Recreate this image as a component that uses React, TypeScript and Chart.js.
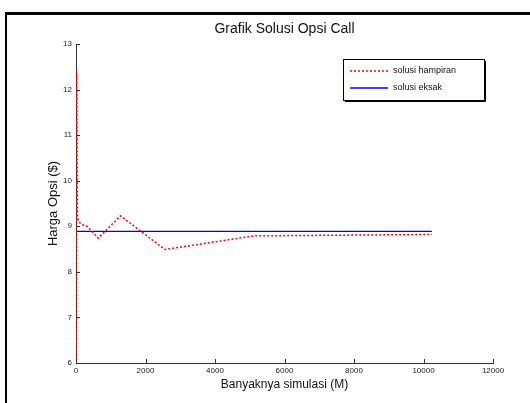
import React, { useEffect, useRef } from "react";
import { Chart, registerables } from "chart.js";

Chart.register(...registerables);

const simulasiM = [10, 20, 40, 80, 160, 320, 640, 1280, 2560, 5120, 10240];
const hampiran = [5.8, 12.4, 9.2, 9.1, 9.04, 9.0, 8.74, 9.23, 8.49, 8.79, 8.82];
const eksakM = [0, 10240];
const eksak = [8.89, 8.89];
const xTicks = [0, 2000, 4000, 6000, 8000, 10000, 12000];
const yTicks = [6, 7, 8, 9, 10, 11, 12, 13];
const seriesNames = ["solusi hampiran", "solusi eksak"];
const chartTitle = "Grafik Solusi Opsi Call";
const xTitle = "Banyaknya simulasi (M)";
const yTitle = "Harga Opsi ($)";

const FONT = "'Liberation Sans', Arial, Helvetica, sans-serif";

const decorPlugin = {
  id: "decor",
  afterDraw(chart: any) {
    const ctx = chart.ctx;
    const area = chart.chartArea;
    const xs = chart.scales.x;
    const ys = chart.scales.y;
    ctx.save();
    // outer frame (top and left)
    ctx.fillStyle = "#000";
    ctx.fillRect(5, 12, 525, 3);
    ctx.fillRect(5, 12, 2, 391);
    // title
    ctx.fillStyle = "#111";
    ctx.font = `14px ${FONT}`;
    ctx.textAlign = "center";
    ctx.textBaseline = "middle";
    ctx.fillText(chartTitle, (area.left + area.right) / 2, 29);
    // inward ticks
    ctx.strokeStyle = "#333";
    ctx.lineWidth = 1;
    ctx.beginPath();
    xTicks.forEach((v) => {
      const px = Math.round(xs.getPixelForValue(v)) + 0.5;
      ctx.moveTo(px, area.bottom);
      ctx.lineTo(px, area.bottom - 4);
    });
    yTicks.forEach((v) => {
      const py = Math.round(ys.getPixelForValue(v)) + 0.5;
      ctx.moveTo(area.left, py);
      ctx.lineTo(area.left + 4, py);
    });
    ctx.stroke();
    // legend
    const lx = 343, ly = 59, lw = 141, lh = 41;
    ctx.fillStyle = "#fff";
    ctx.fillRect(lx, ly, lw, lh);
    ctx.strokeStyle = "#000";
    ctx.lineWidth = 1;
    ctx.strokeRect(lx + 0.5, ly + 0.5, lw, lh);
    ctx.beginPath();
    ctx.moveTo(lx + lw + 1.5, ly + 2);
    ctx.lineTo(lx + lw + 1.5, ly + lh + 1.5);
    ctx.lineTo(lx + 2, ly + lh + 1.5);
    ctx.stroke();
    const ds = chart.data.datasets;
    const rows = [71, 88];
    rows.forEach((ry, i) => {
      ctx.save();
      ctx.strokeStyle = ds[i].borderColor;
      ctx.lineWidth = ds[i].borderWidth;
      ctx.setLineDash(ds[i].borderDash || []);
      ctx.beginPath();
      ctx.moveTo(350, ry);
      ctx.lineTo(388, ry);
      ctx.stroke();
      ctx.restore();
      ctx.fillStyle = "#111";
      ctx.font = `9px ${FONT}`;
      ctx.textAlign = "left";
      ctx.textBaseline = "middle";
      ctx.fillText(ds[i].label, 393, ry);
    });
    ctx.restore();
  },
};

export default function App() {
  const ref = useRef<HTMLCanvasElement | null>(null);
  useEffect(() => {
    if (!ref.current) return;
    const chart = new Chart(ref.current, {
      type: "line",
      data: {
        datasets: [
          {
            label: seriesNames[0],
            data: simulasiM.map((m, i) => ({ x: m, y: hampiran[i] })),
            borderColor: "#ff0000",
            borderWidth: 1.5,
            borderDash: [2, 2],
            pointRadius: 0,
            tension: 0,
            fill: false,
          },
          {
            label: seriesNames[1],
            data: eksakM.map((m, i) => ({ x: m, y: eksak[i] })),
            borderColor: "#0000ff",
            borderWidth: 1.3,
            pointRadius: 0,
            tension: 0,
            fill: false,
          },
        ],
      },
      options: {
        animation: false,
        responsive: false,
        devicePixelRatio: 1,
        layout: { padding: { left: 0, right: 37, top: 44, bottom: 0 } },
        plugins: {
          legend: { display: false },
          title: { display: false },
          tooltip: { enabled: false },
        },
        scales: {
          x: {
            type: "linear",
            min: 0,
            max: 12000,
            afterBuildTicks: (s: any) => {
              s.ticks = xTicks.map((v) => ({ value: v }));
            },
            ticks: {
              font: { family: FONT, size: 8 },
              color: "#222",
              padding: 3,
              maxRotation: 0,
              callback: (v: any) => String(v),
            },
            grid: { display: false, drawTicks: false },
            border: { display: true, color: "#333", width: 1 },
            title: {
              display: true,
              text: xTitle,
              font: { family: FONT, size: 12 },
              color: "#111",
              padding: { top: 0, bottom: 11 },
            },
            afterFit: (s: any) => {
              s.height = 40;
            },
          },
          y: {
            type: "linear",
            min: 6,
            max: 13,
            afterBuildTicks: (s: any) => {
              s.ticks = yTicks.map((v) => ({ value: v }));
            },
            ticks: {
              font: { family: FONT, size: 8 },
              color: "#222",
              padding: 4,
              callback: (v: any) => String(v),
            },
            grid: { display: false, drawTicks: false },
            border: { display: true, color: "#333", width: 1 },
            title: {
              display: true,
              text: yTitle,
              font: { family: FONT, size: 13 },
              color: "#111",
              padding: { top: 46, bottom: 0 },
            },
            afterFit: (s: any) => {
              s.width = 76;
            },
          },
        },
      },
      plugins: [decorPlugin],
    });
    return () => chart.destroy();
  }, []);
  return (
    <div style={{ position: "absolute", left: 0, top: 0, width: 530, height: 403, background: "#fff" }}>
      <canvas ref={ref} width={530} height={403} style={{ width: 530, height: 403, display: "block" }} />
    </div>
  );
}
